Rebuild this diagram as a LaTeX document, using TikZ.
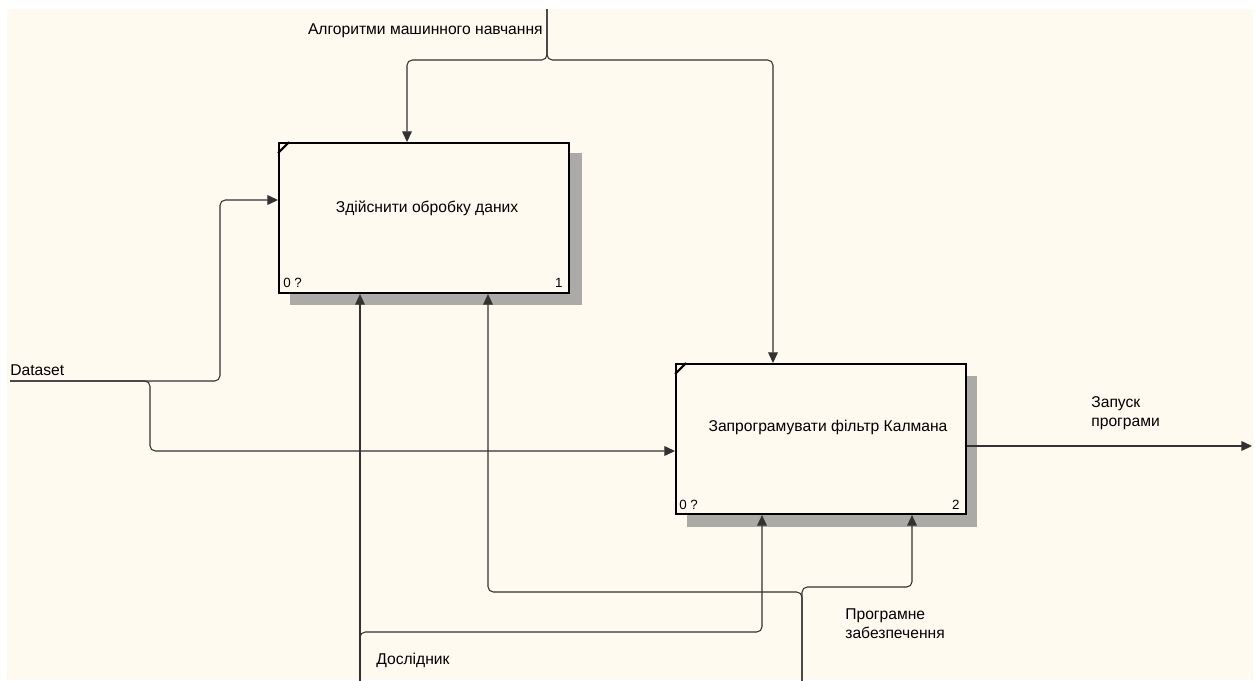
\documentclass[tikz,border=0pt]{standalone}
\usepackage{fontspec}
\setmainfont{Liberation Sans}
\usetikzlibrary{arrows.meta,calc}
\definecolor{idefbg}{RGB}{255, 250, 240}
\definecolor{idefline}{RGB}{50, 50, 50}
\definecolor{idefshade}{RGB}{172, 170, 166}

\tikzset{
  actbox/.style={draw=black,line width=1.2pt,fill=idefbg,minimum width=5.8cm,minimum height=3cm,anchor=north west,inner sep=0pt},
  flow/.style={draw=idefline,line width=0.6pt,rounded corners=3pt},
  flowarr/.style={flow,-{Triangle[length=6pt,width=5.5pt]}},
  lbl/.style={font=\fontsize{8.9}{11}\selectfont,align=left,inner sep=0pt},
  numlbl/.style={font=\fontsize{7.6}{8}\selectfont,inner sep=0pt}
}

\begin{document}
\begin{tikzpicture}[x=0.02cm,y=-0.02cm]
  \useasboundingbox (0,0) rectangle (1257,680);
  \fill[white] (0,0) rectangle (1257,680);
  \fill[idefbg] (7,9) rectangle (1253,680);

  % Activity boxes (shadow first)
  \fill[idefshade] (290,153) rectangle (582,305);
  \node[actbox] (obr) at (278,142) {};
  \fill[idefshade] (687,376) rectangle (977,527);
  \node[actbox] (kal) at (675,363) {};

  \draw[line width=1.2pt] ($(obr.north west)+(0,11)$) -- ($(obr.north west)+(11,0)$);
  \draw[line width=1.2pt] ($(kal.north west)+(0,11)$) -- ($(kal.north west)+(11,0)$);

  \node[lbl] (obrtxt) at (427,208) {Здійснити обробку даних};
  \node[lbl] (kaltxt) at (828,427) {Запрограмувати фільтр Калмана};
  \node[numlbl,anchor=west] (obrn0) at (283,283) {0 ?};
  \node[numlbl,anchor=east] (obrn1) at (563,283) {1};
  \node[numlbl,anchor=west] (kaln0) at (679,505) {0 ?};
  \node[numlbl,anchor=east] (kaln2) at (960,505) {2};

  % Control
  \coordinate (alg) at (547,9);
  \node[lbl,anchor=east] (algtxt) at (543,31) {Алгоритми машинного навчання};
  \draw[flowarr] (alg) |- (407,60) -- (407,0 |- obr.north);
  \draw[flowarr] (alg) |- (773,60) -- (773,0 |- kal.north);

  % Input
  \coordinate (ds) at (10,381);
  \node[lbl,anchor=west] (dstxt) at (10,370) {Dataset};
  \draw[flowarr] (ds) -| (220,200) -- (obr.west |- 0,200);
  \draw[flowarr] (ds) -| (150,451) -- (kal.west |- 0,451);

  % Output
  \coordinate (zap) at (1252,446);
  \node[lbl,anchor=west] (zaptxt) at (1091,413) {Запуск\\програми};
  \draw[flowarr] (kal.east |- 0,446) -- (zap);

  % Mechanisms
  \coordinate (dos) at (360,681);
  \node[lbl,anchor=west] (dostxt) at (376,660) {Дослідник};
  \draw[flowarr] (dos) -- (360,0 |- obr.south);
  \draw[flowarr] (dos) |- (762,632) -- (762,0 |- kal.south);

  \coordinate (pz) at (802,681);
  \node[lbl,anchor=west] (pztxt) at (845,624) {Програмне\\забезпечення};
  \draw[flowarr] (pz) |- (488,592) -- (488,0 |- obr.south);
  \draw[flowarr] (pz) |- (912,587) -- (912,0 |- kal.south);
\end{tikzpicture}
\end{document}
